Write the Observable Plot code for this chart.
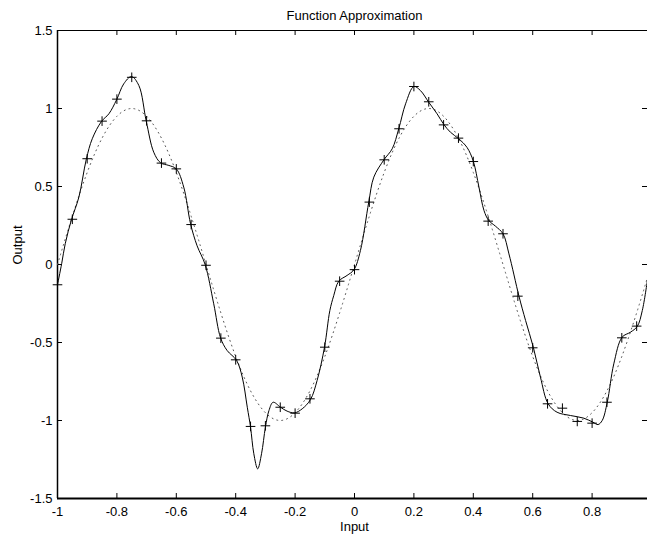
<!DOCTYPE html>
<html>
<head>
<meta charset="utf-8">
<script src="https://cdn.jsdelivr.net/npm/d3@7"></script>
<script src="https://cdn.jsdelivr.net/npm/@observablehq/plot@0.6"></script>
<style>
  html, body { margin: 0; padding: 0; background: #fff; overflow: hidden; }
  svg { display: block; }
</style>
</head>
<body>
<div id="chart"></div>
<script>
// Training targets (+ markers)
const targetX = [-1, -0.95, -0.9, -0.85, -0.8, -0.75, -0.7, -0.65, -0.6, -0.55,
  -0.5, -0.45, -0.4, -0.35, -0.3, -0.25, -0.2, -0.15, -0.1, -0.05,
  0, 0.05, 0.1, 0.15, 0.2, 0.25, 0.3, 0.35, 0.4, 0.45,
  0.5, 0.55, 0.6, 0.65, 0.7, 0.75, 0.8, 0.85, 0.9, 0.95];
const targetY = [-0.13, 0.29, 0.678, 0.919, 1.06, 1.2, 0.921, 0.65, 0.613, 0.256,
  -0.005, -0.472, -0.611, -1.038, -1.034, -0.915, -0.953, -0.861, -0.53, -0.107,
  -0.033, 0.4, 0.671, 0.87, 1.141, 1.043, 0.895, 0.81, 0.66, 0.278,
  0.197, -0.203, -0.534, -0.893, -0.921, -1.006, -1.017, -0.883, -0.47, -0.395];

// Underlying function (dotted)
const funcX = [-1, -0.95, -0.9, -0.85, -0.8, -0.75, -0.7, -0.65, -0.6, -0.55,
  -0.5, -0.45, -0.4, -0.35, -0.3, -0.25, -0.2, -0.15, -0.1, -0.05,
  0, 0.05, 0.1, 0.15, 0.2, 0.25, 0.3, 0.35, 0.4, 0.45,
  0.5, 0.55, 0.6, 0.65, 0.7, 0.75, 0.8, 0.85, 0.9, 0.95, 0.99];
const funcY = [0, 0.31, 0.59, 0.81, 0.95, 1.0, 0.95, 0.81, 0.59, 0.31,
  0, -0.31, -0.59, -0.81, -0.95, -1.0, -0.95, -0.81, -0.59, -0.31,
  0, 0.31, 0.59, 0.81, 0.95, 1.0, 0.95, 0.81, 0.59, 0.31,
  0, -0.31, -0.59, -0.81, -0.95, -1.0, -0.95, -0.81, -0.59, -0.31, -0.06];

// Network output (solid)
const netX = [-1.0, -0.986, -0.974, -0.953, -0.928, -0.903, -0.883, -0.852, -0.827, -0.801,
  -0.777, -0.751, -0.726, -0.701, -0.676, -0.653, -0.625, -0.6, -0.575, -0.552,
  -0.53, -0.503, -0.474, -0.451, -0.429, -0.397, -0.378, -0.361, -0.35, -0.339,
  -0.326, -0.313, -0.3, -0.288, -0.274, -0.249, -0.227, -0.202, -0.176, -0.148,
  -0.126, -0.101, -0.083, -0.07, -0.053, -0.025, -0.002, 0.02, 0.048, 0.065,
  0.099, 0.127, 0.149, 0.172, 0.2, 0.222, 0.25, 0.278, 0.301, 0.323,
  0.351, 0.379, 0.4, 0.419, 0.436, 0.452, 0.475, 0.5, 0.52, 0.554,
  0.576, 0.602, 0.626, 0.652, 0.682, 0.727, 0.772, 0.803, 0.82, 0.834,
  0.851, 0.873, 0.901, 0.929, 0.952, 0.969, 0.986];
const netY = [-0.13, 0.005, 0.133, 0.287, 0.432, 0.675, 0.806, 0.917, 0.966, 1.056,
  1.158, 1.205, 1.147, 0.917, 0.72, 0.652, 0.635, 0.613, 0.496, 0.261,
  0.12, 0.0, -0.252, -0.47, -0.551, -0.615, -0.722, -0.915, -1.043, -1.213,
  -1.31, -1.213, -1.043, -0.936, -0.883, -0.915, -0.94, -0.951, -0.925, -0.865,
  -0.744, -0.53, -0.295, -0.2, -0.107, -0.07, -0.034, 0.09, 0.4, 0.56,
  0.671, 0.742, 0.87, 1.03, 1.141, 1.115, 1.04, 0.966, 0.897, 0.848,
  0.806, 0.75, 0.662, 0.496, 0.346, 0.282, 0.245, 0.197, 0.068, -0.205,
  -0.359, -0.53, -0.722, -0.893, -0.947, -0.968, -0.985, -1.011, -1.026, -1.0,
  -0.883, -0.637, -0.466, -0.434, -0.397, -0.295, -0.103];

const xTicks = [-1, -0.8, -0.6, -0.4, -0.2, 0, 0.2, 0.4, 0.6, 0.8];
const yTicks = [-1.5, -1, -0.5, 0, 0.5, 1, 1.5];

const targets = targetX.map((x, i) => ({x, y: targetY[i]}));
const func = funcX.map((x, i) => ({x, y: funcY[i]}));
const net = netX.map((x, i) => ({x, y: netY[i]}));

const W = 647, H = 534, mT = 30, mB = 36, mL = 57, mR = 0;
const innerH = H - mT - mB;
const innerW = W - mL - mR;
const font = "'Liberation Sans', Arial, Helvetica, sans-serif";
const tickLen = 5;
const fs = 13;

const chart = Plot.plot({
  width: W,
  height: H,
  marginTop: mT,
  marginBottom: mB,
  marginLeft: mL,
  marginRight: mR,
  style: {fontFamily: font, fontSize: fs + "px", color: "#000", background: "#fff"},
  x: {domain: [-1, 0.9865]},
  y: {domain: [-1.5, 1.5]},
  marks: [
    Plot.frame({stroke: "#000", strokeWidth: 1}),
    Plot.ruleY([-1.5], {stroke: "#000", strokeWidth: 2}),
    Plot.ruleX([-1], {stroke: "#000", strokeWidth: 1.5}),
    // inward ticks
    Plot.tickX(xTicks, {x: d => d, insetTop: innerH - tickLen, stroke: "#000"}),
    Plot.tickX(xTicks, {x: d => d, insetBottom: innerH - tickLen, stroke: "#000"}),
    Plot.tickY(yTicks, {y: d => d, insetRight: innerW - tickLen, stroke: "#000"}),
    Plot.tickY(yTicks, {y: d => d, insetLeft: innerW - tickLen, stroke: "#000"}),
    Plot.axisX({ticks: xTicks, tickSize: 0, tickPadding: 8, tickFormat: d => String(d), label: null, fontSize: fs}),
    Plot.axisY({ticks: yTicks, tickSize: 0, tickPadding: 5, tickFormat: d => String(d), label: null, fontSize: fs}),
    Plot.line(func, {x: "x", y: "y", curve: "natural", stroke: "#555", strokeWidth: 1, strokeDasharray: "1 4"}),
    Plot.line(net, {x: "x", y: "y", curve: "catmull-rom", stroke: "#000", strokeWidth: 1}),
    Plot.dot(targets, {x: "x", y: "y", symbol: "plus", r: 3.2, stroke: "#000", strokeWidth: 1}),
    Plot.text(["Function Approximation"], {text: d => d, frameAnchor: "top", lineAnchor: "top", dy: -20, dx: 2, fontSize: fs}),
    Plot.text(["Input"], {text: d => d, frameAnchor: "bottom", lineAnchor: "top", dy: 23.5, dx: 2, fontSize: fs}),
    Plot.text(["Output"], {text: d => d, frameAnchor: "left", rotate: -90, dx: -40, fontSize: fs})
  ]
});
document.getElementById("chart").appendChild(chart);
</script>
</body>
</html>
